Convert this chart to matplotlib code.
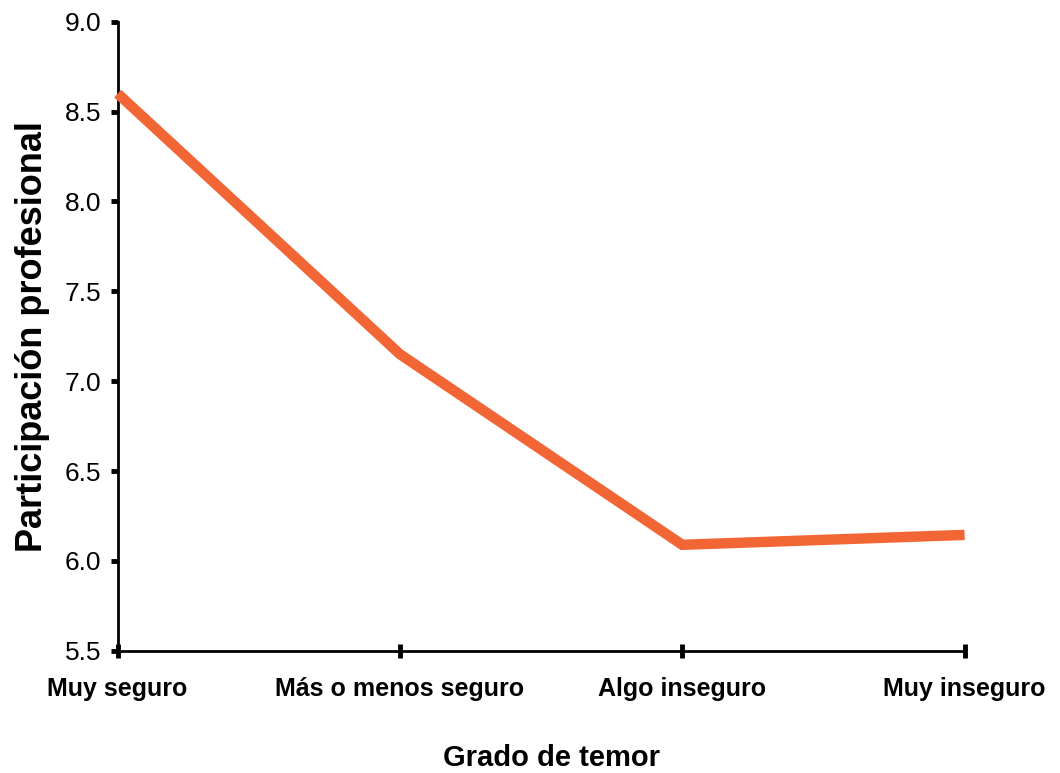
import matplotlib.pyplot as plt

categorias = ["Muy seguro", "Más o menos seguro", "Algo inseguro", "Muy inseguro"]
participacion = [8.60, 7.15, 6.09, 6.145]
y_ticks = [5.5, 6.0, 6.5, 7.0, 7.5, 8.0, 8.5, 9.0]

plt.rcParams['font.family'] = ['Liberation Sans', 'DejaVu Sans']

fig = plt.figure(figsize=(10.6, 7.73), dpi=100)
ax = fig.add_axes([0.111, 0.158, 0.799, 0.814])

x = list(range(len(categorias)))
ax.plot(x, participacion, color='#f26535', linewidth=7.5, solid_joinstyle='miter',
        solid_capstyle='butt', clip_on=False, zorder=3)

ax.set_xlim(0, 3)
ax.set_ylim(5.5, 9.0)
ax.set_yticks(y_ticks)
ax.set_yticklabels([f"{v:.1f}" for v in y_ticks], fontsize=19)
ax.set_xticks(x)
ax.set_xticklabels(categorias, fontsize=18, fontweight='bold')

for s in ['top', 'right']:
    ax.spines[s].set_visible(False)
for s in ['left', 'bottom']:
    ax.spines[s].set_linewidth(2)

ax.tick_params(axis='y', direction='out', length=5, width=3.5, pad=7)
ax.tick_params(axis='x', direction='inout', length=10, width=3.5, pad=14)

ax.set_ylabel("Participación profesional", fontsize=26, fontweight='bold', labelpad=10)
fig.text(0.5 * (0.111 + 0.910) + 0.01, 1 - 758 / 773, "Grado de temor",
         fontsize=21, fontweight='bold', ha='center', va='center')

fig.savefig("out.png", dpi=100)
